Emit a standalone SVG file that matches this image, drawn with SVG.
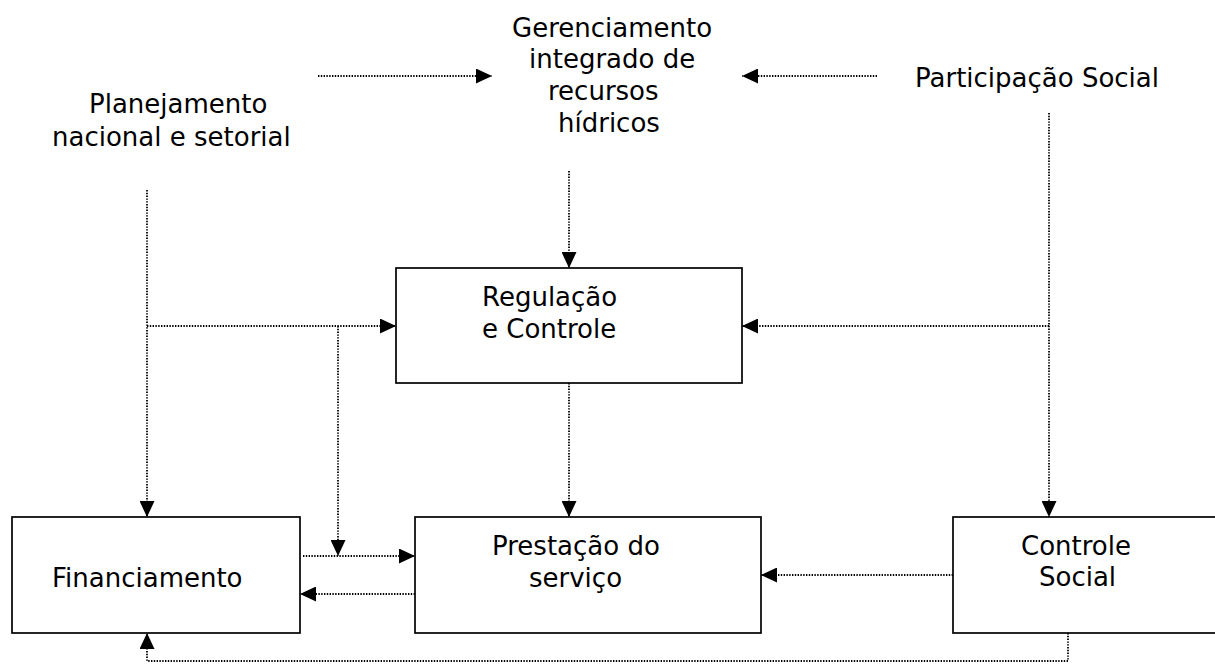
<svg xmlns="http://www.w3.org/2000/svg" width="1215" height="672" viewBox="0 0 1215 672">
<defs>
<style>
text{font-family:"DejaVu Sans","Verdana",sans-serif;font-size:26px;fill:#000}
.box{fill:#fff;stroke:#000;stroke-width:1.7}
.c{fill:none;stroke:#000;stroke-width:1.8;stroke-dasharray:1.4 1.4}
</style>
<marker id="ah" viewBox="0 0 16 15" refX="16" refY="7.5" markerWidth="16" markerHeight="15" markerUnits="userSpaceOnUse" orient="auto">
<path d="M0,0 L16,7.5 L0,15 Z" fill="#000"/>
</marker>
</defs>
<rect width="1215" height="672" fill="#fff"/>
<g id="connectors">
<path class="c" d="M318,76 L492,76" marker-end="url(#ah)"/>
<path class="c" d="M877,76 L742,76" marker-end="url(#ah)"/>
<path class="c" d="M569,171 L569,268" marker-end="url(#ah)"/>
<path class="c" d="M147,190 L147,517" marker-end="url(#ah)"/>
<path class="c" d="M147,326 L396,326" marker-end="url(#ah)"/>
<path class="c" d="M338,326 L338,556" marker-end="url(#ah)"/>
<path class="c" d="M1049,113 L1049,517" marker-end="url(#ah)"/>
<path class="c" d="M1049,326 L742,326" marker-end="url(#ah)"/>
<path class="c" d="M569,383 L569,517" marker-end="url(#ah)"/>
<path class="c" d="M303,556 L415,556" marker-end="url(#ah)"/>
<path class="c" d="M415,594 L300,594" marker-end="url(#ah)"/>
<path class="c" d="M953,575 L761,575" marker-end="url(#ah)"/>
<path class="c" d="M1068,633 L1068,661 L147,661 L147,633" marker-end="url(#ah)"/>
</g>
<g id="planejamento">
<text x="89" y="113">Planejamento</text>
<text x="52" y="146">nacional e setorial</text>
</g>
<g id="gerenciamento">
<text x="512" y="37">Gerenciamento</text>
<text x="529" y="68">integrado de</text>
<text x="548" y="100">recursos</text>
<text x="558" y="132">hídricos</text>
</g>
<g id="participacao">
<text x="915" y="87">Participação Social</text>
</g>
<g id="regulacao">
<rect class="box" x="396" y="268" width="346" height="115"/>
<text x="482" y="306">Regulação</text>
<text x="482" y="338">e Controle</text>
</g>
<g id="financiamento">
<rect class="box" x="12" y="517" width="288" height="116"/>
<text x="52" y="587">Financiamento</text>
</g>
<g id="prestacao">
<rect class="box" x="415" y="517" width="346" height="116"/>
<text x="492" y="555">Prestação do</text>
<text x="529" y="587">serviço</text>
</g>
<g id="controle">
<rect class="box" x="953" y="517" width="300" height="116"/>
<text x="1021" y="555">Controle</text>
<text x="1039" y="586">Social</text>
</g>
</svg>
